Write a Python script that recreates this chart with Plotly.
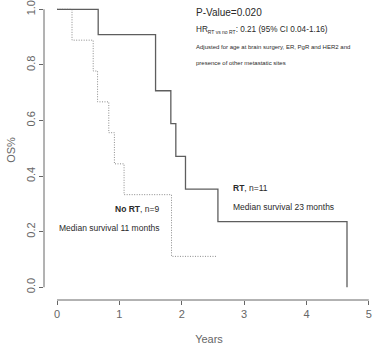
import plotly.graph_objects as go

# Kaplan-Meier step data (years, survival proportion)
rt_years = [0, 0.66, 1.58, 1.825, 1.905, 2.06, 2.58, 4.65]
rt_surv = [1.0, 0.909, 0.707, 0.589, 0.471, 0.353, 0.236, 0.0]

nort_years = [0, 0.24, 0.58, 0.65, 0.83, 0.92, 1.075, 1.836, 2.55]
nort_surv = [1.0, 0.889, 0.778, 0.667, 0.556, 0.444, 0.333, 0.111, 0.111]

x_ticks = [0, 1, 2, 3, 4, 5]
y_ticks = [0.0, 0.2, 0.4, 0.6, 0.8, 1.0]
y_tick_text = ["0.0", "0.2", "0.4", "0.6", "0.8", "1.0"]

FONT = "Liberation Sans, Arial, Helvetica, sans-serif"
TEXT = "#2a2a2a"
AXIS = "#666666"

fig = go.Figure()
fig.add_trace(go.Scatter(
    x=nort_years, y=nort_surv, mode="lines", line_shape="hv",
    line=dict(color="#8a8a8a", width=1, dash="1px,1.5px"), hoverinfo="skip",
))
fig.add_trace(go.Scatter(
    x=rt_years, y=rt_surv, mode="lines", line_shape="hv",
    line=dict(color="#5e5e5e", width=1.3), hoverinfo="skip",
))

# Axis lines spanning only the tick range (base-R style)
fig.add_shape(type="line", xref="x", yref="paper", x0=0, x1=5, y0=0, y1=0,
              line=dict(color=AXIS, width=1))
fig.add_shape(type="line", xref="paper", yref="y", x0=0, x1=0, y0=0, y1=1,
              line=dict(color=AXIS, width=1))

def note(x, y, text, size, anchor="left"):
    fig.add_annotation(x=x, y=y, xref="x", yref="y", text=text, showarrow=False,
                       xanchor=anchor, yanchor="middle",
                       font=dict(family=FONT, size=size, color=TEXT))

note(2.2, 0.99, "P-Value=0.020", 10)
note(2.2, 0.925,
     "HR<sub><span style='font-size:5px'>RT vs no RT</span></sub>: 0.21 (95% CI 0.04-1.16)",
     8.2)
note(2.2, 0.863, "Adjusted for age at brain surgery, ER, PgR and HER2 and", 6)
note(2.2, 0.806, "presence of other metastatic sites", 6)
note(2.79, 0.356, "<b>RT</b>, n=11", 8.5)
note(2.79, 0.289, "Median survival 23 months", 8.5)
note(1.66, 0.283, "<b>No RT</b>, n=9", 8.5, anchor="right")
note(1.66, 0.214, "Median survival 11 months", 8.5, anchor="right")

fig.update_layout(
    width=374, height=347,
    margin=dict(l=44, r=0, t=0, b=47),
    paper_bgcolor="white", plot_bgcolor="white",
    showlegend=False,
    font=dict(family=FONT, color=AXIS),
    xaxis=dict(
        range=[-0.209, 5.083], showgrid=False, zeroline=False, showline=False,
        tickvals=x_ticks, ticks="outside", ticklen=4, tickcolor=AXIS,
        tickfont=dict(size=11, color=AXIS),
        title=dict(text="Years", font=dict(size=11, color=AXIS), standoff=16),
    ),
    yaxis=dict(
        range=[-0.046, 1.0335], showgrid=False, zeroline=False, showline=False,
        tickvals=y_ticks, ticktext=y_tick_text, tickangle=-90,
        ticks="outside", ticklen=4, tickcolor=AXIS,
        tickfont=dict(size=11, color=AXIS),
        title=dict(text="OS%", font=dict(size=11, color=AXIS), standoff=6),
    ),
)

fig.write_html("out.html")
